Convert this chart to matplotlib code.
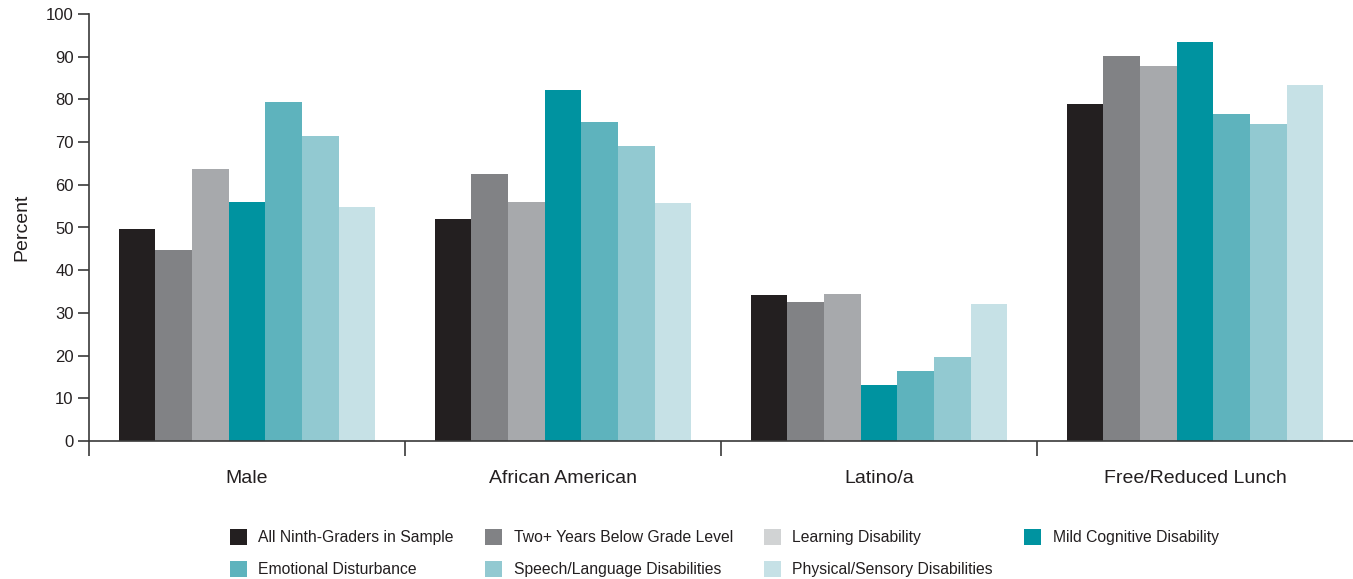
import matplotlib
matplotlib.use("Agg")
import matplotlib.pyplot as plt
import matplotlib.patches as mpatches
import numpy as np

plt.rcParams['font.family'] = ['Liberation Sans', 'DejaVu Sans']

categories = ["Male", "African American", "Latino/a", "Free/Reduced Lunch"]
series_names = ["All Ninth-Graders in Sample", "Two+ Years Below Grade Level",
                "Learning Disability", "Mild Cognitive Disability",
                "Emotional Disturbance", "Speech/Language Disabilities",
                "Physical/Sensory Disabilities"]

all_ninth = [49.6, 52.0, 34.2, 78.9]
two_plus = [44.7, 62.5, 32.6, 90.1]
learning = [63.6, 56.0, 34.4, 87.8]
mild_cog = [55.9, 82.2, 13.1, 93.5]
emotional = [79.5, 74.7, 16.4, 76.5]
speech = [71.4, 69.1, 19.7, 74.2]
physical = [54.7, 55.7, 32.1, 83.3]
series = [all_ninth, two_plus, learning, mild_cog, emotional, speech, physical]

colors = ["#231f20", "#818285", "#a7a9ac", "#0093a0", "#5eb3bd", "#92c9d1", "#c6e1e6"]
legend_colors = ["#231f20", "#818285", "#d1d3d4", "#0093a0", "#5eb3bd", "#92c9d1", "#c6e1e6"]

fig = plt.figure(figsize=(13.53, 5.79), dpi=100)
ax = fig.add_axes([89 / 1353, 1 - 441 / 579, 1 - 89 / 1353, (441 - 14) / 579])

x = np.arange(len(categories))
bw = 0.116
for i, vals in enumerate(series):
    ax.bar(x + (i - 3) * bw, vals, bw, color=colors[i], linewidth=0)

ax.set_xlim(-0.5, 3.5)
ax.set_ylim(0, 100)
ax.set_yticks(range(0, 101, 10))
ax.tick_params(axis='y', direction='out', length=8, width=1.2, color='#3a3a3a',
               labelsize=12, labelcolor='#231f20', pad=3)
ax.set_xticks(x)
ax.set_xticklabels(categories, fontsize=14, color='#231f20')
ax.tick_params(axis='x', which='major', length=0, pad=21)
ax.set_xticks([-0.5, 0.5, 1.5, 2.5], minor=True)
ax.tick_params(axis='x', which='minor', direction='out', length=11, width=1.2, color='#3a3a3a')

for s in ['top', 'right']:
    ax.spines[s].set_visible(False)
for s in ['left', 'bottom']:
    ax.spines[s].set_color('#3a3a3a')
    ax.spines[s].set_linewidth(1.2)

ax.set_ylabel("Percent", fontsize=14, color='#231f20', labelpad=11)

# legend laid out row by row
order = [0, 4, 1, 5, 2, 6, 3]
handles = [mpatches.Patch(color=legend_colors[k], linewidth=0) for k in order]
labels = [series_names[k] for k in order]
fig.legend(handles, labels, ncol=4, loc='center left', bbox_to_anchor=(216 / 1353, 0.045),
           frameon=False, fontsize=11.3, handlelength=1.05, handleheight=1.2,
           handletextpad=0.75, columnspacing=2.0, labelspacing=1.0,
           labelcolor='#231f20')

fig.savefig("out.png", dpi=100)
